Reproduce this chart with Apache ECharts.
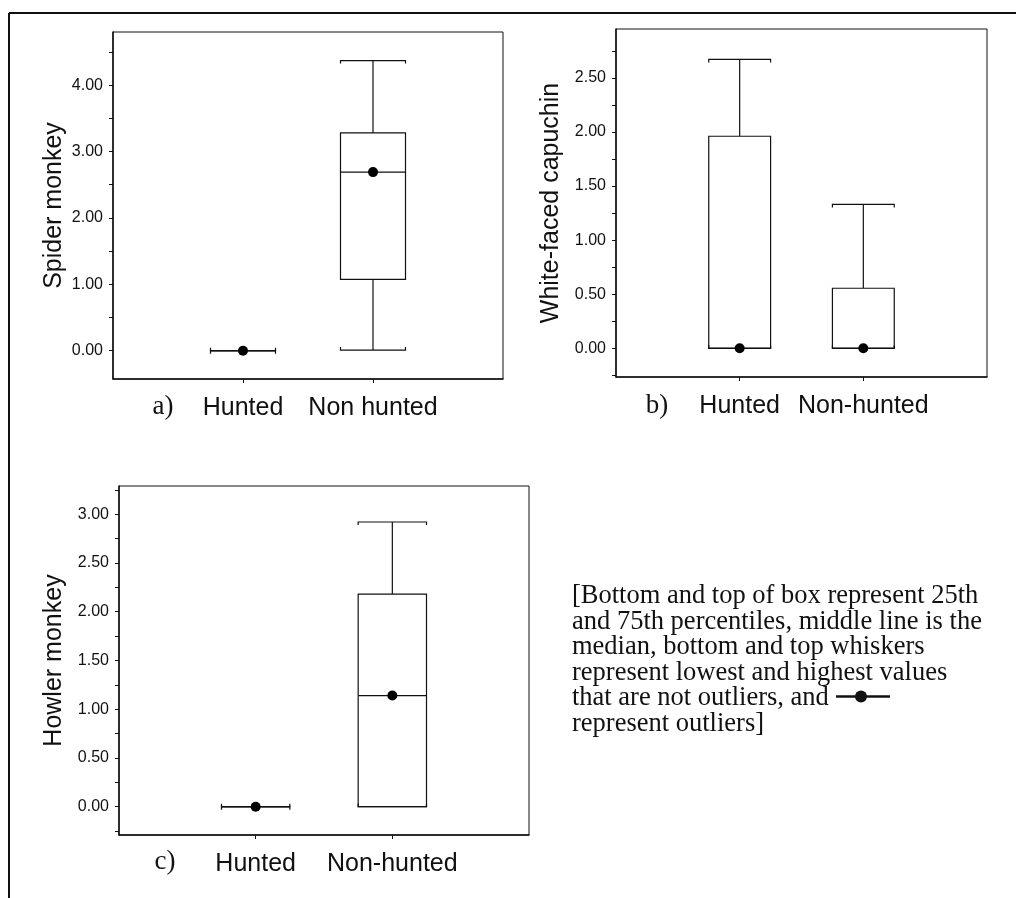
<!DOCTYPE html>
<html>
<head>
<meta charset="utf-8">
<script src="https://cdn.jsdelivr.net/npm/echarts@6/dist/echarts.min.js"></script>
<style>
html, body { margin: 0; padding: 0; background: #fff; }
#chart { width: 1016px; height: 898px; }
</style>
</head>
<body>
<div id="chart"></div>
<script>
// ---------- data ----------
const categoriesA = ['Hunted', 'Non hunted'];
const categoriesB = ['Hunted', 'Non-hunted'];
const categoriesC = ['Hunted', 'Non-hunted'];

// Spider monkey (panel a): [Hunted, Non hunted]
const spiderLow    = [0, 0.01];
const spiderQ1     = [0, 1.075];
const spiderMedian = [0, 2.69];
const spiderQ3     = [0, 3.28];
const spiderHigh   = [0, 4.37];

// White-faced capuchin (panel b)
const capuchinLow    = [0, 0];
const capuchinQ1     = [0, 0];
const capuchinMedian = [0, 0];
const capuchinQ3     = [1.96, 0.555];
const capuchinHigh   = [2.67, 1.33];

// Howler monkey (panel c)
const howlerLow    = [0, 0];
const howlerQ1     = [0, 0];
const howlerMedian = [0, 1.14];
const howlerQ3     = [0, 2.18];
const howlerHigh   = [0, 2.92];

// tick labels
const yLabelsA = [0, 1, 2, 3, 4];
const yTicksA  = [0, 0.5, 1, 1.5, 2, 2.5, 3, 3.5, 4, 4.5];
const yLabelsB = [0, 0.5, 1, 1.5, 2, 2.5];
const yTicksB  = [-0.25, 0, 0.25, 0.5, 0.75, 1, 1.25, 1.5, 1.75, 2, 2.25, 2.5, 2.75];
const yLabelsC = [0, 0.5, 1, 1.5, 2, 2.5, 3];
const yTicksC  = [-0.25, 0, 0.25, 0.5, 0.75, 1, 1.25, 1.5, 1.75, 2, 2.25, 2.5, 2.75, 3, 3.25];
const xPositions = [1, 2];

const yTitles = ['Spider monkey', 'White-faced capuchin', 'Howler monkey'];
const panelLetters = ['a)', 'b)', 'c)'];

const noteLines = [
  '[Bottom and top of box represent 25th',
  'and 75th percentiles, middle line is the',
  'median, bottom and top whiskers',
  'represent lowest and highest values',
  'that are not outliers, and',
  'represent outliers]'
];

// ---------- build ----------
const SANS = '"Liberation Sans", Arial, Helvetica, sans-serif';
const SERIF = '"Liberation Serif", "Times New Roman", serif';
const INK = '#111';

function boxData(low, q1, med, q3, high) {
  return xPositions.map((x, i) => [x, low[i], q1[i], med[i], q3[i], high[i]]);
}
function medData(med) {
  return xPositions.map((x, i) => [x, med[i]]);
}

const BOX_W = 0.5;
function renderBox(params, api) {
  const x = api.value(0);
  const pLow = api.coord([x, api.value(1)]);
  const pQ1 = api.coord([x, api.value(2)]);
  const pMed = api.coord([x, api.value(3)]);
  const pQ3 = api.coord([x, api.value(4)]);
  const pHigh = api.coord([x, api.value(5)]);
  const half = api.size([BOX_W, 0])[0] / 2;
  const cx = pLow[0];
  const st = { stroke: INK, lineWidth: 1.2, fill: null };
  const cap = 3;
  return {
    type: 'group',
    children: [
      { type: 'line', shape: { x1: cx, y1: pQ3[1], x2: cx, y2: pHigh[1] }, style: st },
      { type: 'line', shape: { x1: cx, y1: pQ1[1], x2: cx, y2: pLow[1] }, style: st },
      { type: 'rect', shape: { x: cx - half, y: pQ3[1], width: 2 * half, height: pQ1[1] - pQ3[1] },
        style: { stroke: INK, lineWidth: 1.2, fill: '#fff' } },
      { type: 'line', shape: { x1: cx - half, y1: pMed[1], x2: cx + half, y2: pMed[1] }, style: st },
      { type: 'polyline', shape: { points: [[cx - half, pHigh[1] + cap], [cx - half, pHigh[1]], [cx + half, pHigh[1]], [cx + half, pHigh[1] + cap]] }, style: st },
      { type: 'polyline', shape: { points: [[cx - half, pLow[1] - cap], [cx - half, pLow[1]], [cx + half, pLow[1]], [cx + half, pLow[1] - cap]] }, style: st }
    ]
  };
}

const grids = [
  { left: 113, top: 32, width: 390, height: 347 },
  { left: 616, top: 29, width: 371, height: 348 },
  { left: 119, top: 486, width: 410, height: 349 }
].map(g => Object.assign(g, { show: true, borderColor: INK, borderWidth: 1, backgroundColor: '#fff' }));

const cats = [categoriesA, categoriesB, categoriesC];
const xAxes = cats.map((c, i) => ({
  type: 'value', gridIndex: i, min: 0, max: 3,
  splitLine: { show: false },
  axisLine: { show: true, onZero: false, lineStyle: { color: INK, width: 1.5 } },
  axisTick: { show: true, customValues: xPositions, length: 4, lineStyle: { color: INK } },
  axisLabel: { show: true, customValues: xPositions, formatter: v => c[Math.round(v) - 1] || '',
    fontFamily: SANS, fontSize: 25, color: INK, margin: 17 }
}));

const yRanges = [[-0.426, 4.8], [-0.265, 2.951], [-0.29, 3.289]];
const yLabelSets = [yLabelsA, yLabelsB, yLabelsC];
const yTickSets = [yTicksA, yTicksB, yTicksC];
const nameGaps = [46, 52, 52];
const yAxes = yRanges.map((r, i) => ({
  type: 'value', gridIndex: i, min: r[0], max: r[1],
  name: yTitles[i], nameLocation: 'middle', nameRotate: 90, nameGap: nameGaps[i],
  nameTextStyle: { fontFamily: SANS, fontSize: 25, color: INK },
  splitLine: { show: false },
  axisLine: { show: true, onZero: false, lineStyle: { color: INK, width: 1.5 } },
  axisTick: { show: true, customValues: yTickSets[i], length: 4, lineStyle: { color: INK } },
  axisLabel: { show: true, customValues: yLabelSets[i], formatter: v => v.toFixed(2),
    fontFamily: SANS, fontSize: 16, color: INK, margin: 10 }
}));

const panels = [
  { box: boxData(spiderLow, spiderQ1, spiderMedian, spiderQ3, spiderHigh), med: medData(spiderMedian) },
  { box: boxData(capuchinLow, capuchinQ1, capuchinMedian, capuchinQ3, capuchinHigh), med: medData(capuchinMedian) },
  { box: boxData(howlerLow, howlerQ1, howlerMedian, howlerQ3, howlerHigh), med: medData(howlerMedian) }
];
const series = [];
panels.forEach((p, i) => {
  series.push({ type: 'custom', xAxisIndex: i, yAxisIndex: i, renderItem: renderBox,
    encode: { x: 0, y: [1, 2, 3, 4, 5] }, data: p.box, silent: true, z: 2 });
  series.push({ type: 'scatter', xAxisIndex: i, yAxisIndex: i, data: p.med, symbol: 'circle',
    symbolSize: 10, itemStyle: { color: '#000', opacity: 1 }, silent: true, z: 5 });
});

// annotation graphics
const letterPos = [[163, 407], [657, 406], [165, 862]];
const graphic = [
  { type: 'line', shape: { x1: 9, y1: 13, x2: 1016, y2: 13 }, style: { stroke: INK, lineWidth: 2 } },
  { type: 'line', shape: { x1: 9, y1: 13, x2: 9, y2: 898 }, style: { stroke: INK, lineWidth: 2 } }
];
panelLetters.forEach((t, i) => graphic.push({
  type: 'text', x: letterPos[i][0], y: letterPos[i][1],
  style: { text: t, font: '27px ' + SERIF, fill: INK, align: 'center', verticalAlign: 'middle' }
}));
const NOTE_X = 572, NOTE_Y0 = 596, NOTE_DY = 25.6;
noteLines.forEach((t, i) => graphic.push({
  type: 'text', x: NOTE_X, y: NOTE_Y0 + i * NOTE_DY,
  style: { text: t, font: '26.5px ' + SERIF, fill: INK, align: 'left', verticalAlign: 'middle' }
}));
// outlier symbol in the note
const symY = NOTE_Y0 + 4 * NOTE_DY - 2;
graphic.push({ type: 'line', shape: { x1: 836, y1: symY, x2: 890, y2: symY }, style: { stroke: INK, lineWidth: 2.5 } });
graphic.push({ type: 'circle', shape: { cx: 861, cy: symY, r: 6 }, style: { fill: INK } });

const chart = echarts.init(document.getElementById('chart'), null, { renderer: 'canvas' });
chart.setOption({
  backgroundColor: '#fff',
  animation: false,
  textStyle: { fontFamily: SANS },
  grid: grids,
  xAxis: xAxes,
  yAxis: yAxes,
  series: series,
  graphic: graphic
});
</script>
</body>
</html>
